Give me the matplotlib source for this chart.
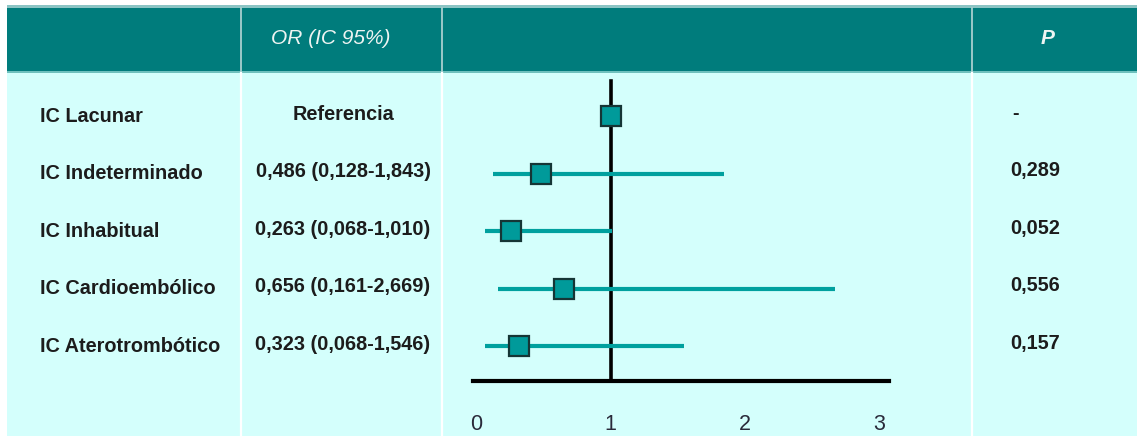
import numpy as np
import matplotlib
matplotlib.use("Agg")
import matplotlib.pyplot as plt
from matplotlib.patches import Rectangle
from matplotlib.transforms import blended_transform_factory

# ---- data ----
categories = ["IC Lacunar", "IC Indeterminado", "IC Inhabitual",
              "IC Cardioembólico", "IC Aterotrombótico"]
odds_ratio = [1.000, 0.486, 0.263, 0.656, 0.323]
ci_low = [np.nan, 0.128, 0.068, 0.161, 0.068]
ci_high = [np.nan, 1.843, 1.010, 2.669, 1.546]
or_labels = ["Referencia", "0,486 (0,128-1,843)", "0,263 (0,068-1,010)",
             "0,656 (0,161-2,669)", "0,323 (0,068-1,546)"]
p_labels = ["-", "0,289", "0,052", "0,556", "0,157"]
x_ticks = [0, 1, 2, 3]
header_or = "OR (IC 95%)"
header_p = "P"

# ---- style ----
W, H = 1137, 436
TEAL = "#007c7c"
BODY = "#d4fffc"
MARK = "#009a9a"
WHISK = "#00a09e"
TXT = "#1c1c1c"
FONT = "Liberation Sans"

fig = plt.figure(figsize=(W / 100, H / 100), dpi=100)
fig.patch.set_facecolor("white")

# background table drawn in pixel coordinates
bg = fig.add_axes([0, 0, 1, 1])
bg.set_xlim(0, W)
bg.set_ylim(H, 0)
bg.axis("off")
bg.add_patch(Rectangle((7, 5), W - 7, 3, color="#8cc4c4", lw=0))
bg.add_patch(Rectangle((7, 8), W - 7, 63, color=TEAL, lw=0))
bg.add_patch(Rectangle((7, 71), W - 7, 2, color="#6fc0bd", lw=0))
bg.add_patch(Rectangle((7, 73), W - 7, H - 73, color=BODY, lw=0))
for xd in (241, 442, 972):
    bg.plot([xd, xd], [8, 71], color="#a8d0d0", lw=1.3)
    bg.plot([xd, xd], [73, H], color="white", lw=1.6)

bg.text(331, 38, header_or, ha="center", va="center", color="#eef4f2",
        fontsize=15, style="italic", family=FONT)
bg.text(1048, 38, header_p, ha="center", va="center", color="#eef4f2",
        fontsize=15, style="italic", weight="bold", family=FONT)

# forest plot axes: rows in data units, OR on x
ax_left, ax_right = 442, 972
ax_top, ax_bot = 73, 381
ax = fig.add_axes([ax_left / W, 1 - ax_bot / H,
                   (ax_right - ax_left) / W, (ax_bot - ax_top) / H])
ax.patch.set_alpha(0)
row0, step = 116, 57.5
ax.set_ylim((ax_bot - row0) / step, (ax_top - row0) / step)
px_per_unit = 134.5
x0_px = 476
ax.set_xlim((ax_left - x0_px) / px_per_unit, (ax_right - x0_px) / px_per_unit)

rows = np.arange(len(categories))

# reference line at OR = 1
ax.axvline(1, ymin=0, ymax=(ax_bot - 81) / (ax_bot - ax_top),
           color="black", lw=2.6, zorder=2)

# confidence intervals and point estimates
ax.hlines(rows, ci_low, ci_high, color=WHISK, lw=3.0, zorder=3)
ax.plot(odds_ratio, rows, "s", ms=14.5, mfc=MARK, mec="#153535",
        mew=1.6, zorder=4, ls="none")

for side in ("top", "right", "left"):
    ax.spines[side].set_visible(False)
ax.spines["bottom"].set_linewidth(3.0)
ax.spines["bottom"].set_color("black")
ax.spines["bottom"].set_bounds(-0.025, 3.07)
ax.set_yticks([])
ax.set_xticks(x_ticks)
ax.set_xticklabels([str(t) for t in x_ticks])
ax.tick_params(axis="x", length=0, pad=24, labelsize=15.5, labelcolor="#2a2a3a")
for lab in ax.get_xticklabels():
    lab.set_family(FONT)

# table text columns, aligned to the forest rows
tr = blended_transform_factory(bg.transData, ax.transData)
for i, (cat, orl, pl) in enumerate(zip(categories, or_labels, p_labels)):
    bg.text(40, i, cat, transform=tr, ha="left", va="center", color=TXT,
            fontsize=14.3, weight="bold", family=FONT)
    bg.text(343, i - 0.03, orl, transform=tr, ha="center", va="center",
            color=TXT, fontsize=14.3, weight="bold", family=FONT)
    bg.text(1010 if pl != "-" else 1012, i - 0.05, pl, transform=tr,
            ha="left", va="center", color=TXT, fontsize=14.3, weight="bold",
            family=FONT)

fig.savefig("out.png", dpi=100, facecolor=fig.get_facecolor())
